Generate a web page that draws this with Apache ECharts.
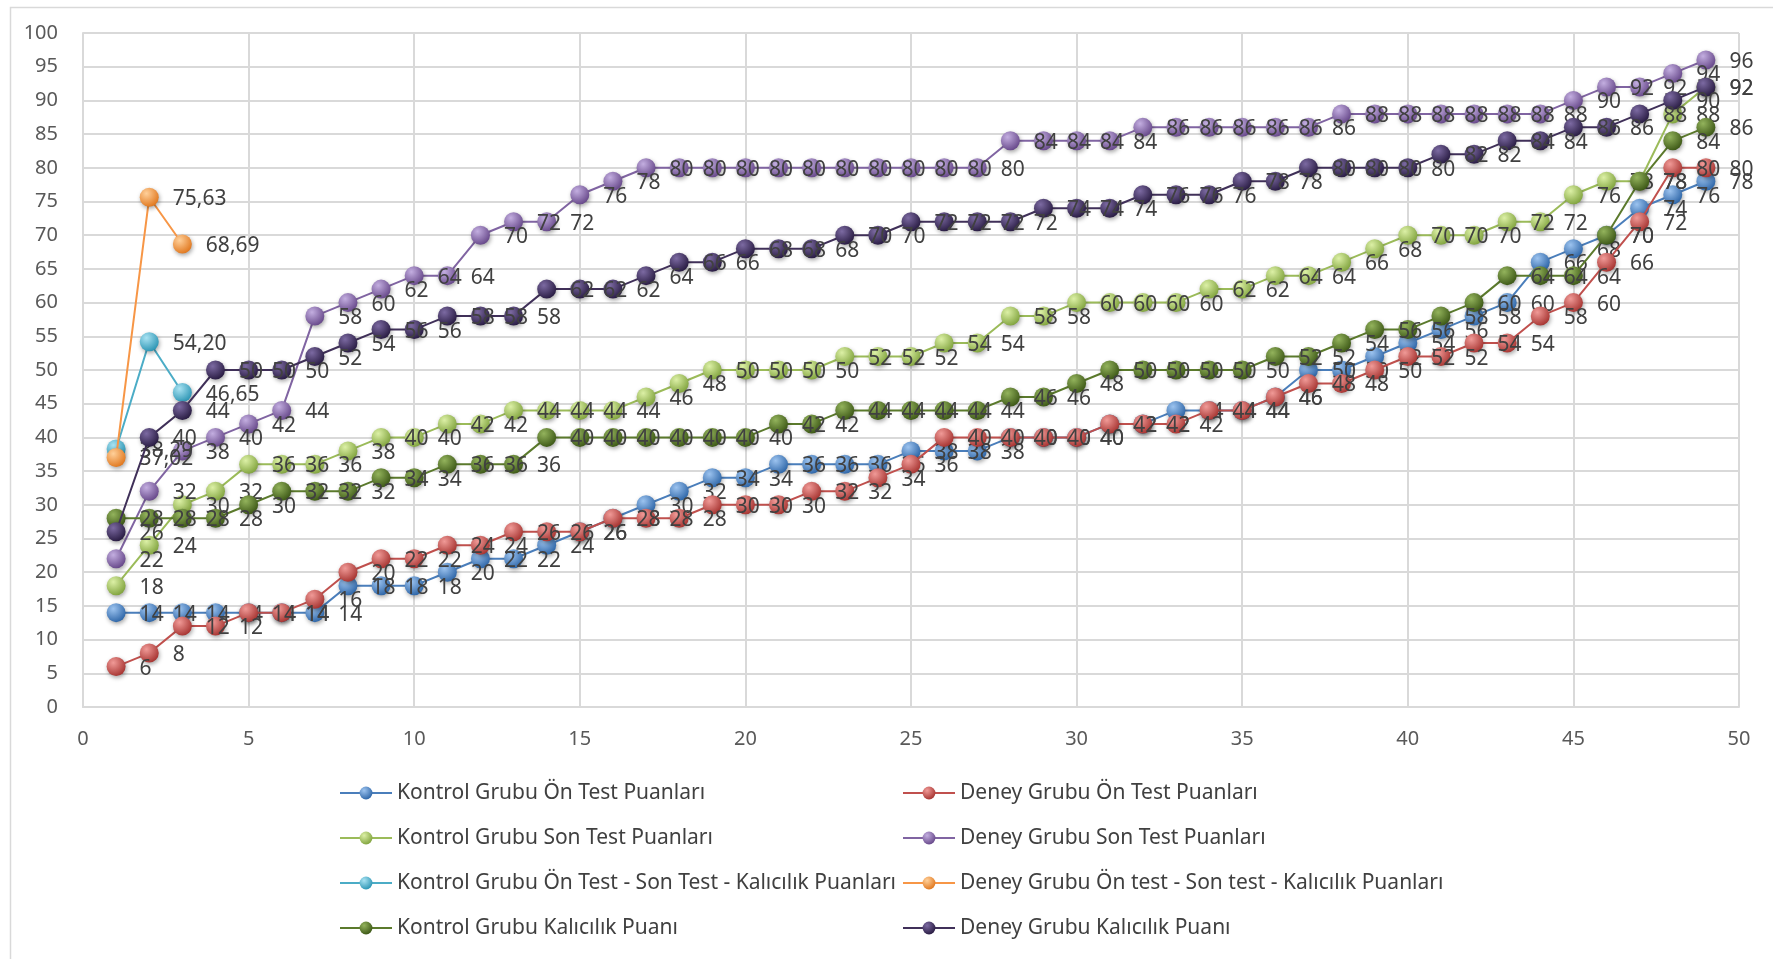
<!DOCTYPE html>
<html>
<head>
<meta charset="utf-8">
<script src="https://cdn.jsdelivr.net/npm/echarts@6/dist/echarts.min.js"></script>
<style>
html,body{margin:0;padding:0;background:#fff;}
#c{width:1773px;height:959px;}
</style>
</head>
<body>
<div id="c"></div>
<script>
// x positions (student order)
const xs = [];
for (let i = 1; i <= 49; i++) xs.push(i);
const xs3 = [1, 2, 3];

const kontrolOnTest = [14,14,14,14,14,14,14,18,18,18,20,22,22,24,26,28,30,32,34,34,36,36,36,36,38,38,38,40,40,40,42,42,44,44,44,46,50,50,52,54,56,58,60,66,68,70,74,76,78];
const deneyOnTest = [6,8,12,12,14,14,16,20,22,22,24,24,26,26,26,28,28,28,30,30,30,32,32,34,36,40,40,40,40,40,42,42,42,44,44,46,48,48,50,52,52,54,54,58,60,66,72,80,80];
const kontrolSonTest = [18,24,30,32,36,36,36,38,40,40,42,42,44,44,44,44,46,48,50,50,50,50,52,52,52,54,54,58,58,60,60,60,60,62,62,64,64,66,68,70,70,70,72,72,76,78,78,88,92];
const deneySonTest = [22,32,38,40,42,44,58,60,62,64,64,70,72,72,76,78,80,80,80,80,80,80,80,80,80,80,80,84,84,84,84,86,86,86,86,86,86,88,88,88,88,88,88,88,90,92,92,94,96];
const kontrolOrtalama = [38.29, 54.20, 46.65];
const deneyOrtalama = [37.02, 75.63, 68.69];
const kontrolKalicilik = [28,28,28,28,30,32,32,32,34,34,36,36,36,40,40,40,40,40,40,40,42,42,44,44,44,44,44,46,46,48,50,50,50,50,50,52,52,54,56,56,58,60,64,64,64,70,78,84,86];
const deneyKalicilik = [26,40,44,50,50,50,52,54,56,56,58,58,58,62,62,62,64,66,66,68,68,68,70,70,72,72,72,72,74,74,74,76,76,76,78,78,80,80,80,80,82,82,84,84,86,86,88,90,92];

const names = [
  'Kontrol Grubu Ön Test Puanları',
  'Deney Grubu Ön Test Puanları',
  'Kontrol Grubu Son Test Puanları',
  'Deney Grubu Son Test Puanları',
  'Kontrol Grubu Ön Test - Son Test - Kalıcılık Puanları',
  'Deney Grubu Ön test - Son test - Kalıcılık Puanları',
  'Kontrol Grubu Kalıcılık Puanı',
  'Deney Grubu Kalıcılık Puanı'
];
const seriesValues = [kontrolOnTest, deneyOnTest, kontrolSonTest, deneySonTest, kontrolOrtalama, deneyOrtalama, kontrolKalicilik, deneyKalicilik];
const seriesX = [xs, xs, xs, xs, xs3, xs3, xs, xs];
const decimals = [false, false, false, false, true, true, false, false];
// [line, light, dark]
const palette = [
  ['#4A7EBB', '#9cc3ef', '#2c64a6'],
  ['#C0504D', '#f09a97', '#a5322f'],
  ['#9BBB59', '#dcf0a6', '#7fa23c'],
  ['#8064A2', '#c3aee0', '#654688'],
  ['#4BACC6', '#a8e2f2', '#2a94b3'],
  ['#F79646', '#ffd09a', '#e0761c'],
  ['#5B7A2C', '#93b35c', '#3b5615'],
  ['#403059', '#7c6aa2', '#271a40']
];

const chart = echarts.init(document.getElementById('c'), null, {renderer: 'canvas'});
const FONT = '"Noto Sans", "DejaVu Sans", sans-serif';

const series = seriesValues.map((vals, i) => {
  const p = palette[i];
  return {
    name: names[i],
    type: 'line',
    data: vals.map((v, k) => [seriesX[i][k], v]),
    symbol: 'circle',
    symbolSize: 19,
    showAllSymbol: true,
    lineStyle: {color: p[0], width: 2},
    itemStyle: {
      color: new echarts.graphic.RadialGradient(0.35, 0.3, 0.75, [
        {offset: 0, color: p[1]},
        {offset: 1, color: p[2]}
      ]),
      borderWidth: 0,
      shadowBlur: 4,
      shadowOffsetY: 2,
      shadowOffsetX: 1,
      shadowColor: 'rgba(0,0,0,0.35)'
    },
    emphasis: {disabled: true},
    label: {
      show: true,
      position: 'right',
      distance: 14,
      offset: [0, 2],
      color: '#404040',
      fontFamily: FONT,
      fontSize: 21,
      formatter: (prm) => {
        const v = prm.value[1];
        return decimals[i] ? v.toFixed(2).replace('.', ',') : String(v);
      }
    },
    z: 2 + i
  };
});

const legendCommon = {
  orient: 'vertical',
  top: 776,
  itemWidth: 52,
  itemHeight: 16,
  itemGap: 21,
  textStyle: {fontFamily: FONT, fontSize: 21, color: '#404040', lineHeight: 24},
  selectedMode: false
};

chart.setOption({
  animation: false,
  backgroundColor: '#ffffff',
  grid: {left: 83, right: 34, top: 33, bottom: 252, containLabel: false},
  xAxis: {
    type: 'value', min: 0, max: 50, interval: 5,
    axisLine: {show: true, lineStyle: {color: '#d9d9d9', width: 2}},
    axisTick: {show: false},
    axisLabel: {color: '#595959', fontFamily: FONT, fontSize: 20, margin: 22},
    splitLine: {show: true, lineStyle: {color: '#d9d9d9', width: 2}}
  },
  yAxis: {
    type: 'value', min: 0, max: 100, interval: 5,
    axisLine: {show: true, lineStyle: {color: '#d9d9d9', width: 2}},
    axisTick: {show: false},
    axisLabel: {color: '#595959', fontFamily: FONT, fontSize: 20, margin: 25},
    splitLine: {show: true, lineStyle: {color: '#d9d9d9', width: 2}}
  },
  legend: [
    Object.assign({}, legendCommon, {left: 334, data: [names[0], names[2], names[4], names[6]]}),
    Object.assign({}, legendCommon, {left: 897, data: [names[1], names[3], names[5], names[7]]})
  ],
  graphic: [{
    type: 'rect', left: 8, top: 5, silent: true,
    shape: {width: 1800, height: 1000},
    style: {fill: 'none', stroke: '#d9d9d9', lineWidth: 1.5}
  }],
  series: series
});
</script>
</body>
</html>
